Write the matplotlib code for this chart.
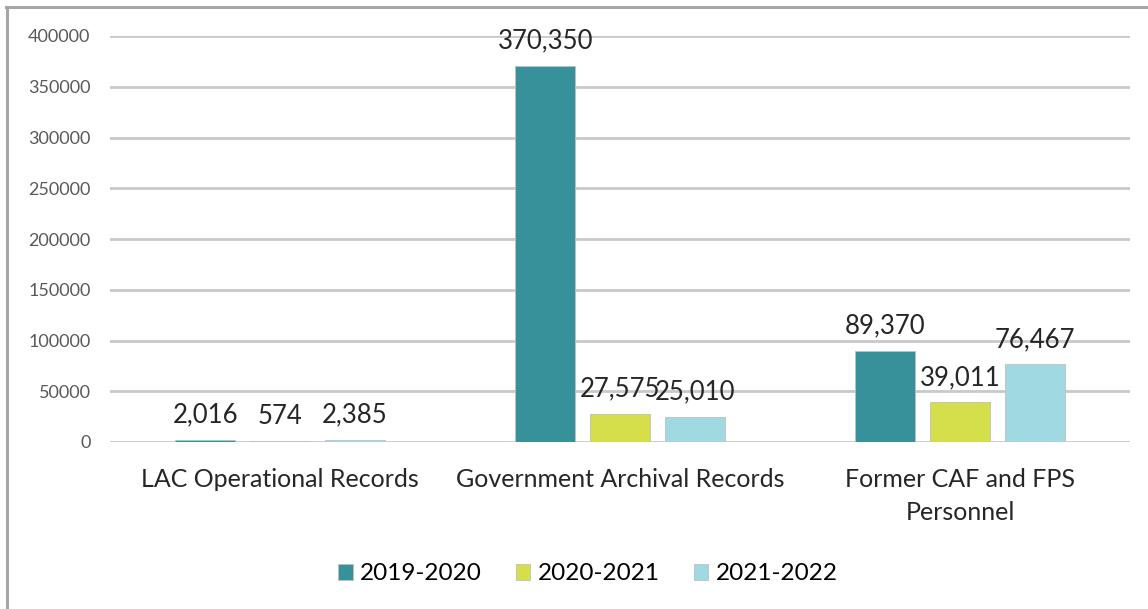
import matplotlib.pyplot as plt
import numpy as np
from matplotlib.lines import Line2D

plt.rcParams['font.family'] = ['Lato', 'DejaVu Sans']

categorias = ['LAC Operational Records', 'Government Archival Records',
              'Former CAF and FPS\nPersonnel']
anos = ['2019-2020', '2020-2021', '2021-2022']
v_2019 = [2016, 370350, 89370]
v_2020 = [574, 27575, 39011]
v_2021 = [2385, 25010, 76467]
cores = ['#37919a', '#d5df4b', '#a0d9e1']

fig = plt.figure(figsize=(11.48, 6.09), dpi=100)
ax = fig.add_axes([110 / 1148, 1 - 442 / 609, 1020 / 1148, (442 - 36) / 609])

x = np.arange(len(categorias))
largura = 0.175
desloc = 0.22
for i, (vals, nome) in enumerate(zip([v_2019, v_2020, v_2021], anos)):
    barras = ax.bar(x + (i - 1) * desloc, vals, largura, color=cores[i],
                    edgecolor='#bfbfbf', linewidth=0.6, label=nome, zorder=3)
    ax.bar_label(barras, labels=[f'{v:,}' for v in vals], padding=9,
                 fontsize=18.5, color='#262626')

ax.set_xlim(-0.5, 2.5)
ax.set_ylim(0, 400000)
ax.set_yticks(range(0, 400001, 50000))
ax.set_xticks(x)
ax.set_xticklabels(categorias, fontsize=18, color='#262626', linespacing=1.5)
ax.tick_params(axis='y', length=0, pad=14, labelsize=13, labelcolor='#595959')
ax.tick_params(axis='x', length=0, pad=19)
ax.grid(True, axis='y', color='#c9c9c9', linewidth=2, zorder=0)
for s in ax.spines.values():
    s.set_visible(False)

fig.legend(loc='center', bbox_to_anchor=(0.512, 1 - 574 / 609), ncol=3,
           frameon=False, fontsize=17.5, handlelength=0.6, handleheight=0.6,
           handletextpad=0.3, columnspacing=1.4)

# moldura cinza da caixa do gráfico
fig.add_artist(Line2D([7 / 1148, 7 / 1148], [0, 1 - 6.5 / 609],
                      transform=fig.transFigure, color='#a6a6a6', linewidth=2.2))
fig.add_artist(Line2D([6 / 1148, 1], [1 - 6.5 / 609, 1 - 6.5 / 609],
                      transform=fig.transFigure, color='#a6a6a6', linewidth=2.2))

fig.savefig('out.png', dpi=100)
